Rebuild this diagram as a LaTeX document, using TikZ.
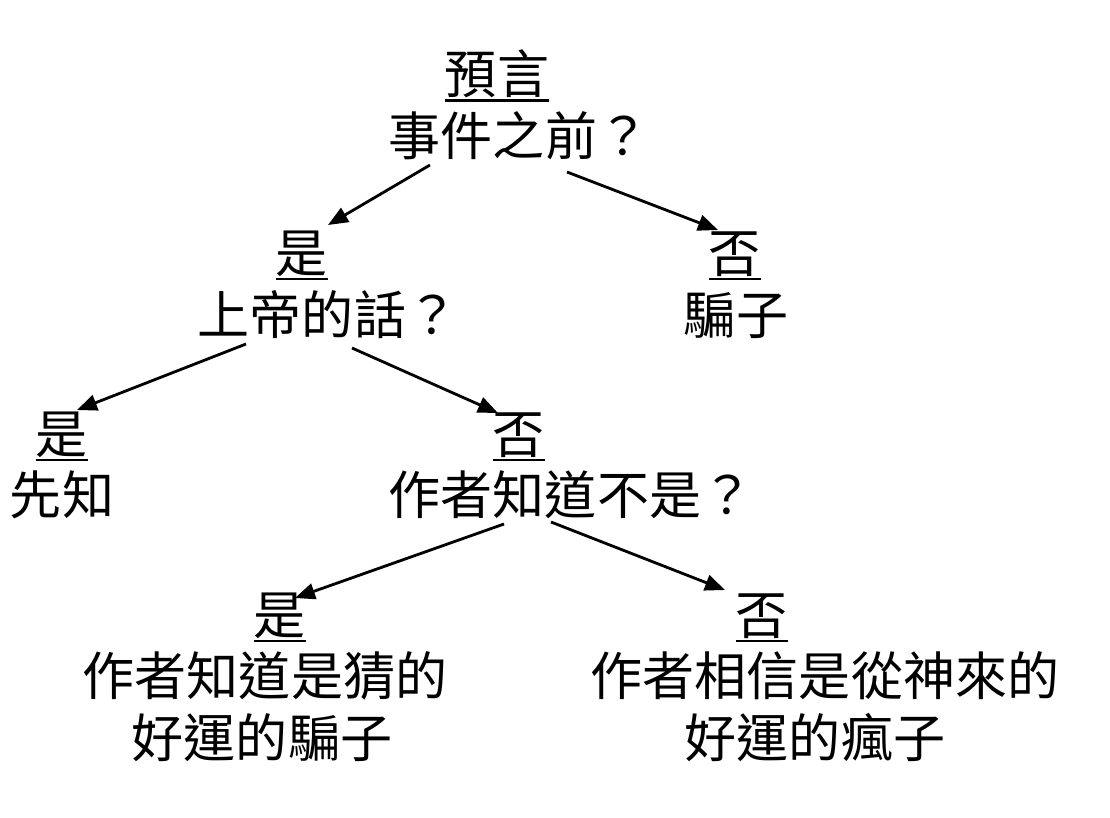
\documentclass[tikz,border=0pt]{standalone}
\usepackage{fontspec}
\newfontfamily\cjk{Noto Sans CJK TC}
\usepackage{tikz}
\usetikzlibrary{calc,arrows.meta}
\newcommand{\ans}[1]{\vtop{\hbox{#1}\kern1.5pt\hrule height 1.5pt}}

\begin{document}
\begin{tikzpicture}[x=0.025cm,y=-0.025cm,-{Triangle[length=0.5cm,width=0.4cm]},line width=2pt]
            \tikzstyle{every node}=[font=\cjk\fontsize{37}{44}\selectfont, inner sep=0pt, anchor=base]
            \useasboundingbox (0,0) rectangle (1110,817);
            \node (t0)  at (497,93)  {\ans{預言}};
            \node (q0)  at (519,155) {事件之前？};
            \node (y1)  at (302,272) {\ans{是}};
            \node (q1)  at (328,334) {上帝的話？};
            \node (n1)  at (735,272) {\ans{否}};
            \node (a1)  at (736,334) {騙子};
            \node (y2)  at (62,453)  {\ans{是}};
            \node (a2)  at (62,514)  {先知};
            \node (n2)  at (519,453) {\ans{否}};
            \node (q2)  at (571,514) {作者知道不是？};
            \node (y3)  at (280,634) {\ans{是}};
            \node (a3a) at (265,695) {作者知道是猜的};
            \node (a3b) at (262,757) {好運的騙子};
            \node (n3)  at (762,634) {\ans{否}};
            \node (a4a) at (825,695) {作者相信是從神來的};
            \node (a4b) at (815,757) {好運的瘋子};
            \draw ($(q0.base)+(-89,10)$) -- ($(y1.base)+(26,-47)$);
            \draw ($(q0.base)+(48,17)$)  -- ($(n1.base)+(-17,-42)$);
            \draw ($(q1.base)+(-82,10)$) -- ($(y2.base)+(15,-43)$);
            \draw ($(q1.base)+(24,14)$)  -- ($(n2.base)+(-21,-40)$);
            \draw ($(q2.base)+(-67,10)$) -- ($(y3.base)+(15,-36)$);
            \draw ($(q2.base)+(-20,8)$)  -- ($(n3.base)+(-37,-44)$);
          \end{tikzpicture}
\end{document}
